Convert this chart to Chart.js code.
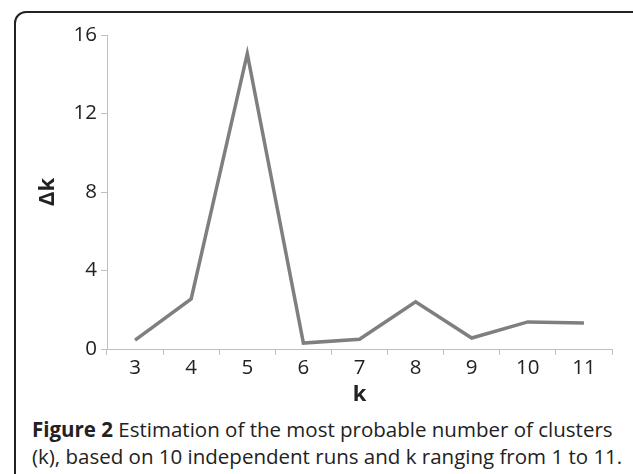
<!DOCTYPE html>
<html>
<head>
<meta charset="utf-8">
<script src="https://cdn.jsdelivr.net/npm/chart.js@4/dist/chart.umd.min.js"></script>
<style>
    body { margin: 0; width: 633px; height: 474px; background: #fff; overflow: hidden; position: relative; font-family: "Open Sans", sans-serif; }
    .frame { position: absolute; left: 14px; top: 11px; width: 660px; height: 500px; border: 2px solid #222; border-top-left-radius: 12px; box-sizing: border-box; }
    #wrap { position: absolute; left: 0; top: 0; width: 633px; height: 408px; }
    .caption { position: absolute; left: 32px; top: 416px; font-size: 20.5px; line-height: 27px; color: #222; white-space: nowrap; }
    .caption b { font-weight: 700; }
</style>
</head>
<body>
<div class="frame"></div>
<div id="wrap"><canvas id="deltaChart" width="633" height="408"></canvas></div>
<div class="caption">
    <b>Figure 2</b> Estimation of the most probable number of clusters<br>
    (k), based on 10 independent runs and k ranging from 1 to 11.
</div>
<script>
// 데이터
const kLabels = ['3', '4', '5', '6', '7', '8', '9', '10', '11'];
const deltaK = [0.45, 2.55, 15.05, 0.3, 0.5, 2.4, 0.56, 1.38, 1.33];
const yTicks = [0, 4, 8, 12, 16];

const tickFont = { family: '"Open Sans", sans-serif', size: 20.5 };
const titleFont = { family: '"Open Sans", sans-serif', size: 22, weight: 'bold' };

const ctx = document.getElementById('deltaChart').getContext('2d');
new Chart(ctx, {
    type: 'line',
    data: {
        labels: kLabels,
        datasets: [{
            data: deltaK,
            borderColor: '#7f7f7f',
            borderWidth: 3.5,
            pointRadius: 0,
            fill: false,
            tension: 0
        }]
    },
    options: {
        responsive: false,
        animation: false,
        layout: { padding: { left: 29, right: 21, top: 35, bottom: 0 } },
        plugins: { legend: { display: false }, tooltip: { enabled: false } },
        scales: {
            x: {
                offset: true,
                grid: { offset: true, drawOnChartArea: false, drawTicks: true, tickLength: 6, color: '#bfbfbf' },
                border: { color: '#bfbfbf', width: 1 },
                ticks: { color: '#222', font: tickFont, padding: 1, maxRotation: 0 },
                title: { display: true, text: 'k', color: '#222', font: titleFont, padding: 0 },
                afterFit: (scale) => { scale.height = 59; }
            },
            y: {
                min: 0,
                max: 16,
                afterBuildTicks: (scale) => { scale.ticks = yTicks.map(v => ({ value: v })); },
                grid: { drawOnChartArea: false, drawTicks: true, tickLength: 6, color: '#bfbfbf' },
                border: { color: '#bfbfbf', width: 1 },
                ticks: { color: '#222', font: tickFont, padding: 4 },
                title: { display: true, text: 'Δk', color: '#222', font: titleFont, padding: { top: 6, bottom: 0 } },
                afterFit: (scale) => { scale.width = 78; }
            }
        }
    }
});
</script>
</body>
</html>
